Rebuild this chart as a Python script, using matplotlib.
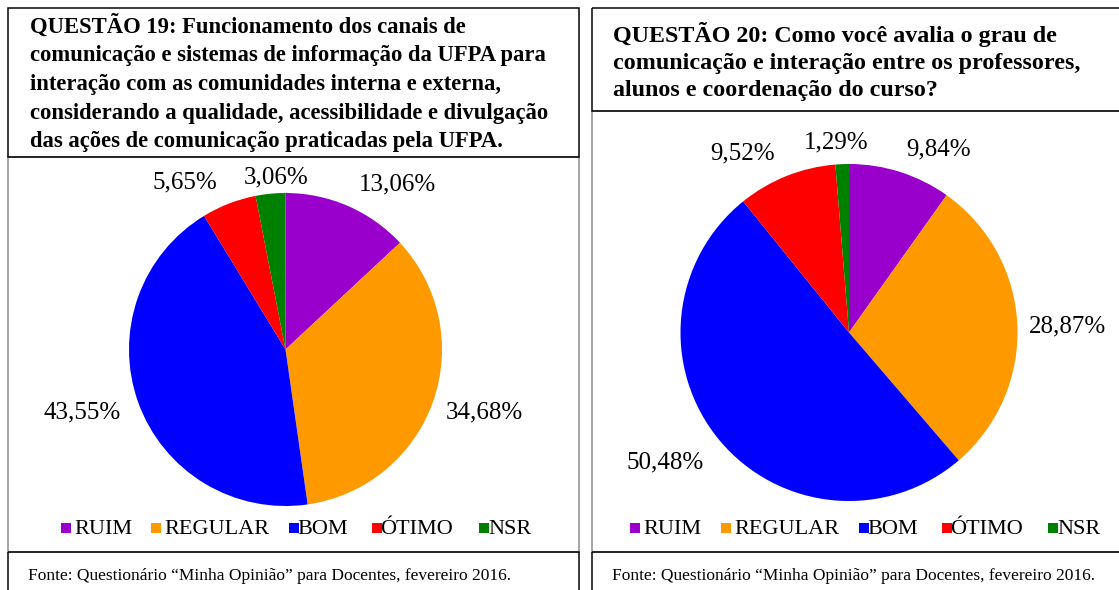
import matplotlib
matplotlib.use("Agg")
import matplotlib.pyplot as plt
from matplotlib.patches import Rectangle

# ---------------- data ----------------
categories = ["RUIM", "REGULAR", "BOM", "ÓTIMO", "NSR"]
q19_values = [13.06, 34.68, 43.55, 5.65, 3.06]
q20_values = [9.84, 28.87, 50.48, 9.52, 1.29]
q19_title = ["QUESTÃO 19: Funcionamento dos canais de",
             "comunicação e sistemas de informação da UFPA para",
             "interação com as comunidades interna e externa,",
             "considerando a qualidade, acessibilidade e divulgação",
             "das ações de comunicação praticadas pela UFPA."]
q20_title = ["QUESTÃO 20: Como você avalia o grau de",
             "comunicação e interação entre os professores,",
             "alunos e coordenação do curso?"]
source = "Fonte: Questionário \u201cMinha Opinião\u201d para Docentes, fevereiro 2016."

# ---------------- style ----------------
colors = ["#9900CC", "#FF9900", "#0000FF", "#FF0000", "#008000"]
SERIF = ["Liberation Serif", "DejaVu Serif"]
plt.rcParams['font.family'] = SERIF

W, H = 1119, 590
fig = plt.figure(figsize=(W / 100, H / 100), dpi=100)
ov = fig.add_axes([0, 0, 1, 1])
ov.set_xlim(0, W)
ov.set_ylim(H, 0)
ov.axis("off")

def px(v):
    return v * 72 / 100

def box(x0, y0, x1, y1, color, lw):
    ov.add_patch(Rectangle((x0, y0), x1 - x0, y1 - y0, fill=False,
                           edgecolor=color, linewidth=px(lw), zorder=3,
                           clip_on=False))

def pie_panel(values, cx, cy, r, label_pos):
    ax = fig.add_axes([(cx - r) / W, 1 - (cy + r) / H, 2 * r / W, 2 * r / H])
    labels = [("%.2f%%" % v).replace(".", ",") for v in values]
    wedges, texts = ax.pie(values, colors=colors, startangle=90,
                           counterclock=False, labels=labels,
                           labeldistance=1.2,
                           wedgeprops=dict(linewidth=0),
                           textprops=dict(fontsize=18, family=SERIF,
                                          color="#000000"))
    ax.set_xlim(-1, 1)
    ax.set_ylim(-1, 1)
    ax.set_aspect("equal")
    for t, (lx, ly) in zip(texts, label_pos):
        t.set_position(((lx - cx) / r, (cy - ly) / r))
        t.set_ha("center")
        t.set_va("center")
        t.set_clip_on(False)
    return ax

def legend(y, x_items):
    for (xs, xt), cat, col in zip(x_items, categories, colors):
        ov.add_patch(Rectangle((xs, y - 5), 10, 10, facecolor=col,
                               edgecolor="none", zorder=4))
        ov.text(xt, y + 1, cat, fontsize=16, ha="left", va="center",
                color="#000000", zorder=4)

# ---------------- left panel ----------------
box(8, 157, 579, 552, "#A6A6A6", 2)
box(8, 8, 579, 157, "#000000", 1.5)
box(8, 552, 579, 600, "#000000", 1.5)
for i, line in enumerate(q19_title):
    ov.text(30, 33 + 28.5 * i, line, fontsize=16.3, fontweight="bold",
            ha="left", va="baseline")
pie_panel(q19_values, 285.5, 349.5, 156.5,
          [(397, 184), (484, 412), (82, 412), (185, 182), (276, 177)])
legend(528, [(61, 74), (151, 164), (289, 297), (372, 380), (479, 488)])
ov.text(28, 576, source, fontsize=12.5, ha="left", va="center")

# ---------------- right panel ----------------
box(592, 111, 1130, 552, "#A6A6A6", 2)
box(592, 8, 1130, 111, "#000000", 1.5)
box(592, 552, 1130, 600, "#000000", 1.5)
for i, line in enumerate(q20_title):
    ov.text(613, 42 + 27 * i, line, fontsize=17.3, fontweight="bold",
            ha="left", va="baseline")
pie_panel(q20_values, 849, 332.5, 168.5,
          [(939, 149), (1068, 326), (665, 462), (743, 153), (836, 142)])
legend(528, [(630, 643), (721, 734), (859, 867), (942, 950), (1048, 1057)])
ov.text(612, 576, source, fontsize=12.5, ha="left", va="center")

fig.savefig("out.png", dpi=100)
